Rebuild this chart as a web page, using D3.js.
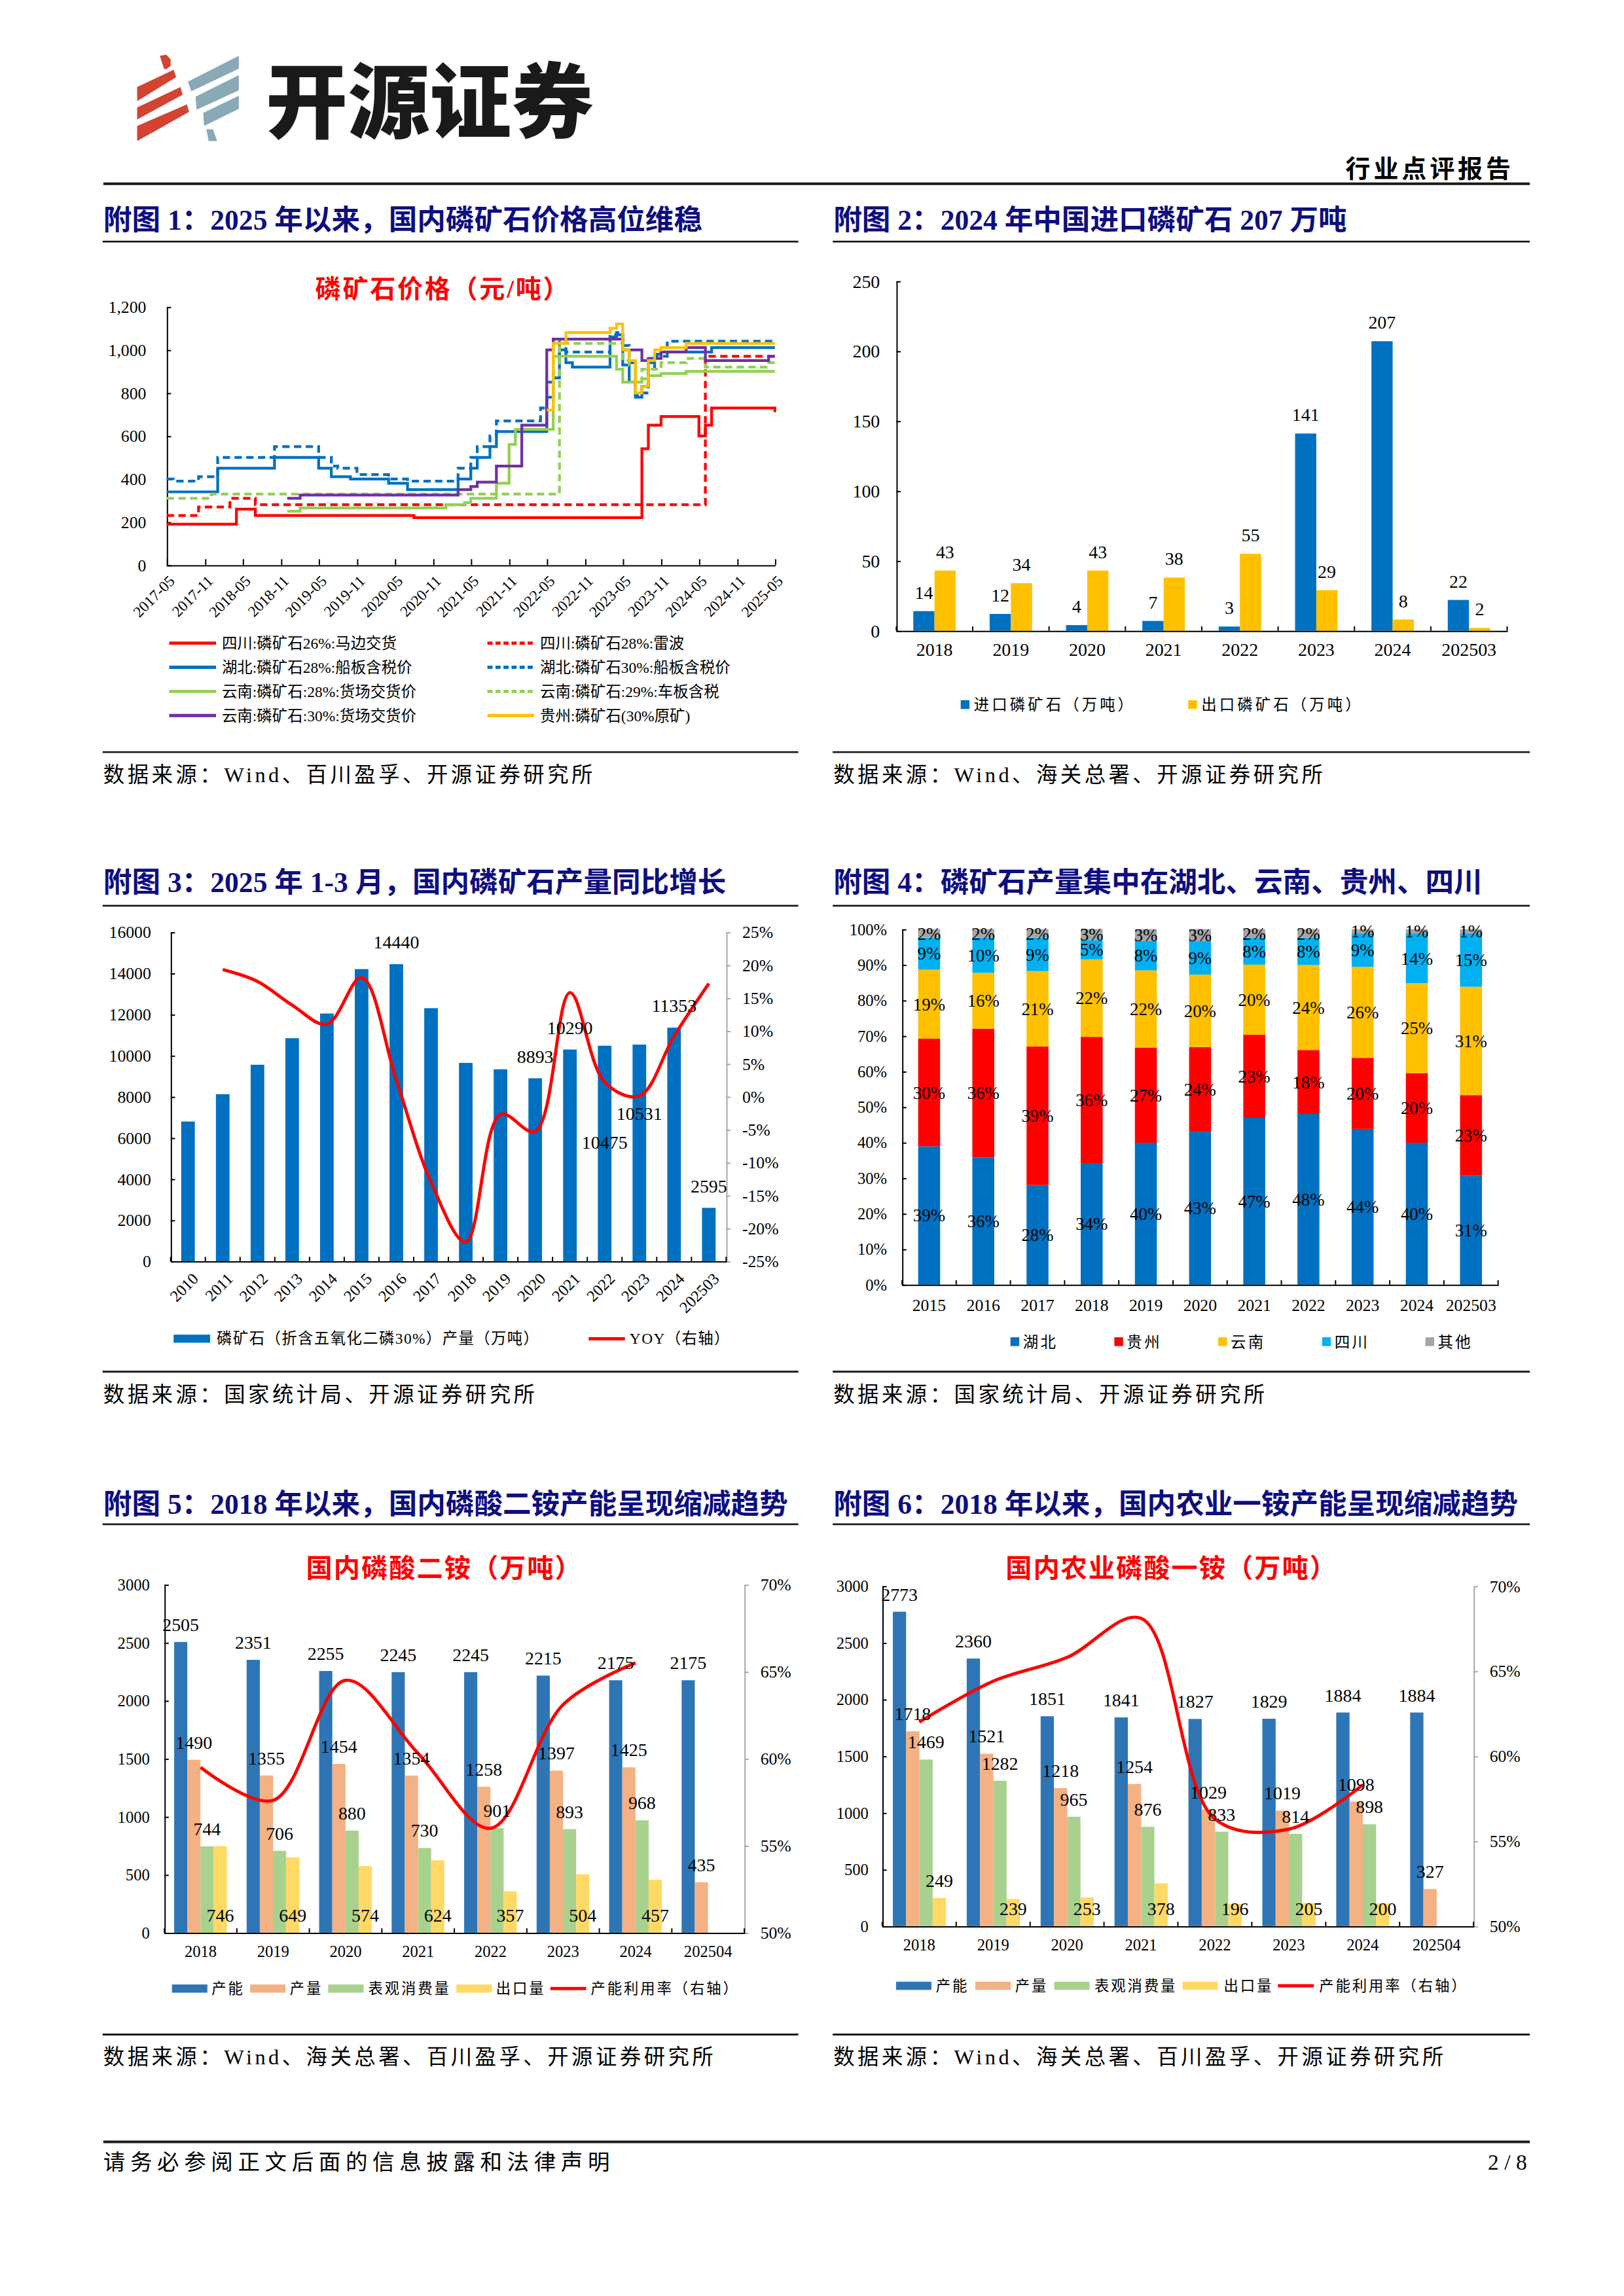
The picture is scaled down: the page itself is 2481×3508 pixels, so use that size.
<!DOCTYPE html>
<html>
<head>
<meta charset="utf-8">
<script src="https://cdnjs.cloudflare.com/ajax/libs/d3/7.8.5/d3.min.js"></script>
<style>
body { margin: 0; background: #fff; }
svg { display: block; }
</style>
</head>
<body>
<script>
// ---------- 附图1: 磷矿石价格（元/吨）  [month the price steps to, price] ----------
const priceNames = ['四川:磷矿石26%:马边交货', '四川:磷矿石28%:雷波',
  '湖北:磷矿石28%:船板含税价', '湖北:磷矿石30%:船板含税价',
  '云南:磷矿石:28%:货场交货价', '云南:磷矿石:29%:车板含税',
  '云南:磷矿石:30%:货场交货价', '贵州:磷矿石(30%原矿)'];
const scMabian26 = [['2017-05',190],['2018-04',260],['2018-07',230],['2020-08',220],['2023-08',540],['2023-09',650],['2023-11',690],['2024-05',600],['2024-06',650],['2024-07',730],['2025-05',710]];
const scLeibo28 = [['2017-05',230],['2017-10',270],['2018-03',310],['2018-07',280],['2024-06',970],['2025-05',970]];
const hbChuanban28 = [['2017-05',340],['2018-01',450],['2018-10',500],['2019-05',450],['2019-07',410],['2019-10',400],['2020-04',380],['2020-07',350],['2021-03',400],['2021-05',450],['2021-06',500],['2021-08',550],['2021-09',620],['2022-05',780],['2022-06',870],['2022-07',1000],['2022-08',940],['2022-09',920],['2023-03',1060],['2023-04',1070],['2023-05',930],['2023-06',850],['2023-07',780],['2023-08',830],['2023-09',940],['2023-10',980],['2023-11',990],['2024-07',1010],['2025-05',1010]];
const hbChuanban30 = [['2017-05',400],['2017-06',390],['2017-10',410],['2018-01',500],['2018-10',550],['2019-05',500],['2019-07',460],['2019-08',450],['2019-11',420],['2020-04',400],['2020-07',390],['2021-03',450],['2021-05',500],['2021-06',550],['2021-08',600],['2021-09',670],['2022-04',730],['2022-05',850],['2022-06',960],['2022-07',1050],['2022-08',990],['2023-03',1070],['2023-04',1080],['2023-05',1020],['2023-06',940],['2023-07',790],['2023-08',800],['2023-09',910],['2023-10',970],['2023-12',1040],['2025-05',1040]];
const ynHuochang28 = [['2018-12',250],['2019-02',265],['2021-01',280],['2021-04',290],['2021-05',310],['2021-09',380],['2021-11',560],['2021-12',630],['2022-06',970],['2023-04',910],['2023-05',850],['2023-08',865],['2023-09',880],['2023-11',890],['2024-03',900],['2025-05',900]];
const ynCheban29 = [['2017-05',310],['2017-12',330],['2022-07',1030],['2023-05',950],['2023-06',930],['2023-07',850],['2023-08',910],['2023-11',940],['2024-03',960],['2024-06',920],['2025-04',940],['2025-05',940]];
const ynHuochang30 = [['2018-12',310],['2019-02',325],['2021-03',350],['2021-05',365],['2021-06',385],['2021-09',460],['2022-01',650],['2022-05',1000],['2022-06',1050],['2023-05',1000],['2023-08',950],['2023-09',960],['2023-11',990],['2024-03',1010],['2024-06',950],['2025-04',970],['2025-05',970]];
const gzYuankuang30 = [['2022-05',720],['2022-06',1030],['2022-08',1080],['2023-03',1100],['2023-04',1120],['2023-05',1000],['2023-06',950],['2023-07',800],['2023-08',830],['2023-09',950],['2023-10',1000],['2023-11',1010],['2024-03',1030],['2025-05',1030]];

// ---------- 附图2: 进出口 (万吨) ----------
const tradeYears = ['2018','2019','2020','2021','2022','2023','2024','202503'];
const importOre = [14, 12, 4, 7, 3, 141, 207, 22];
const exportOre = [43, 34, 43, 38, 55, 29, 8, 2];

// ---------- 附图3: 产量 (万吨) + YOY ----------
const outYears = ['2010','2011','2012','2013','2014','2015','2016','2017','2018','2019','2020','2021','2022','2023','2024','202503'];
const outVals = [6790, 8120, 9550, 10840, 12040, 14200, 14440, 12300, 9640, 9330, 8893, 10290, 10475, 10531, 11353, 2595];
const outYoy = [null, 19.3, 17.5, 13.9, 11.0, 18.1, 2.5, -13.0, -22.1, -2.7, -5.3, 15.8, 2.2, 0.1, 9.2, 17.2];
const outLabelled = ['2016','2020','2021','2022','2023','2024','202503'];

// ---------- 附图4: 产量占比 (%) ----------
const shareYears = ['2015','2016','2017','2018','2019','2020','2021','2022','2023','2024','202503'];
const shareRegions = ['湖北','贵州','云南','四川','其他'];
const shareHubei = [38.9, 35.8, 28.0, 34.2, 39.9, 43.0, 46.9, 48.0, 43.8, 39.9, 30.6];
const shareGuizhou = [30.3, 36.2, 39.0, 35.5, 26.8, 23.8, 23.4, 18.0, 20.0, 19.6, 22.7];
const shareYunnan = [19.4, 15.7, 21.2, 21.8, 21.7, 20.4, 19.7, 23.9, 25.6, 25.3, 30.5];
const shareSichuan = [9.0, 9.9, 9.4, 5.4, 8.3, 9.4, 7.6, 7.7, 9.4, 14.0, 15.0];
const shareOther = [2.4, 2.4, 2.4, 3.1, 3.3, 3.4, 2.4, 2.4, 1.2, 1.2, 1.2];

// ---------- 附图5: 磷酸二铵 (万吨) ----------
const capYears = ['2018','2019','2020','2021','2022','2023','2024','202504'];
const dapCapacity = [2505, 2351, 2255, 2245, 2245, 2215, 2175, 2175];
const dapOutput = [1490, 1355, 1454, 1354, 1258, 1397, 1425, 435];
const dapConsumption = [744, 706, 880, 730, 901, 893, 968, null];
const dapExport = [746, 649, 574, 624, 357, 504, 457, null];
const dapUtil = [59.5, 57.6, 64.5, 60.3, 56.0, 63.1, 65.5, null];

// ---------- 附图6: 农业磷酸一铵 (万吨) ----------
const mapCapacity = [2773, 2360, 1851, 1841, 1827, 1829, 1884, 1884];
const mapOutput = [1718, 1521, 1218, 1254, 1029, 1019, 1098, 327];
const mapConsumption = [1469, 1282, 965, 876, 833, 814, 898, null];
const mapExport = [249, 239, 253, 378, 196, 205, 200, null];
const mapUtil = [62.0, 64.4, 65.8, 68.1, 56.3, 55.7, 58.3, null];

const capLegend = ['产能', '产量', '表观消费量', '出口量', '产能利用率（右轴）'];

// ================= drawing =================
const W = 1100, H = 3508 * 1100 / 2481;
const svg = d3.select('body').append('svg')
  .attr('width', 2481).attr('height', 3508)
  .attr('viewBox', `0 0 ${W} ${H}`);
// whole page content, slightly tightened to the reference margins
const page = svg.append('g').attr('transform', 'translate(70,124) scale(0.991) translate(-70,-124)');

const FONT = '"Liberation Serif", "Noto Sans CJK SC", serif';
const NAVY = '#0e0e80';
const int = d3.format('d');

function txt(g, x, y, s, size, opt = {}) {
  return g.append('text').attr('x', x).attr('y', y).text(s)
    .attr('font-family', opt.family || FONT).attr('font-size', size)
    .attr('fill', opt.fill || '#000')
    .attr('font-weight', opt.weight || 'normal')
    .attr('text-anchor', opt.anchor || 'start')
    .attr('letter-spacing', opt.ls || 0);
}
function hline(x1, x2, y, w) {
  page.append('line').attr('x1', x1).attr('x2', x2).attr('y1', y).attr('y2', y)
    .attr('stroke', '#1a1a1a').attr('stroke-width', w);
}
function axisStyle(g, size, stroke) {
  g.attr('font-family', FONT).attr('font-size', size);
  g.select('.domain').attr('stroke', stroke || '#000').attr('stroke-width', 0.9);
  g.selectAll('.tick line').attr('stroke', stroke || '#000').attr('stroke-width', 0.9);
  g.selectAll('.tick text').attr('fill', '#000');
}
// Excel style ticks between categories
function catTicks(g, x, y0, len) {
  const r0 = x.range()[0];
  g.append('g').selectAll('line').data(d3.range(x.domain().length + 1)).join('line')
    .attr('x1', i => r0 + i * x.step()).attr('x2', i => r0 + i * x.step())
    .attr('y1', y0).attr('y2', y0 - len).attr('stroke', '#000').attr('stroke-width', 0.9);
}
function frame(x0, x1, yTitle, yRule, title, ySrc, src) {
  txt(page, x0 + 0.5, yTitle, title, 19.5, {fill: NAVY, weight: 'bold'});
  hline(x0, x1, yRule, 1.3);
  hline(x0, x1, ySrc, 1.3);
  txt(page, x0 + 0.5, ySrc + 20.5, src, 14.5, {ls: 2});
}

// ---------- header ----------
const logo = page.append('g');
[[[93.1,58.4],[118.2,46.5],[119.7,51.7],[93.1,68]],
 [[93.1,72.4],[122.7,58.4],[124.2,63.6],[93.1,80.5]],
 [[93.1,85],[127.1,70.2],[128.6,75.4],[93.1,95.3]],
 [[108.6,37],[113,36.2],[116,39.5],[116,44],[113,46.2],[111.5,46]]]
  .forEach(p => logo.append('path').attr('d', d3.line()(p) + 'Z').attr('fill', '#d24332'));
[[[127.8,54.7],[162.6,37],[162.6,45.8],[130.1,61.3]],
 [[133,65],[162.6,50.2],[162.6,60.6],[133.7,73.9]],
 [[138.2,76.1],[162.6,64.3],[162.6,73.2],[138.9,85]],
 [[140.4,87.2],[144.9,87.2],[147.8,95.3],[142,95.3]]]
  .forEach(p => logo.append('path').attr('d', d3.line()(p) + 'Z').attr('fill', '#8aa9b6'));
txt(page, 181, 89, '开源证券', 56, {family: '"Noto Sans CJK SC"', weight: 900, fill: '#1a1a1a'});
txt(page, 919, 120, '行业点评报告', 17, {family: '"Noto Sans CJK SC"', weight: 700, ls: 2.2});
hline(70, 1045, 124.5, 1.8);

// ---------- frames ----------
const L0 = 69.5, L1 = 545, R0 = 568.5, R1 = 1045;
frame(L0, L1, 156, 164, '附图 1：2025 年以来，国内磷矿石价格高位维稳', 513, '数据来源：Wind、百川盈孚、开源证券研究所');
frame(R0, R1, 156, 164, '附图 2：2024 年中国进口磷矿石 207 万吨', 513, '数据来源：Wind、海关总署、开源证券研究所');
frame(L0, L1, 608.5, 618, '附图 3：2025 年 1-3 月，国内磷矿石产量同比增长', 936.5, '数据来源：国家统计局、开源证券研究所');
frame(R0, R1, 608.5, 618, '附图 4：磷矿石产量集中在湖北、云南、贵州、四川', 936.5, '数据来源：国家统计局、开源证券研究所');
frame(L0, L1, 1033.5, 1040.8, '附图 5：2018 年以来，国内磷酸二铵产能呈现缩减趋势', 1389.6, '数据来源：Wind、海关总署、百川盈孚、开源证券研究所');
frame(R0, R1, 1033.5, 1040.8, '附图 6：2018 年以来，国内农业一铵产能呈现缩减趋势', 1389.6, '数据来源：Wind、海关总署、百川盈孚、开源证券研究所');

// ---------- footer ----------
hline(70, 1045, 1463, 1.8);
txt(page, 70, 1482, '请务必参阅正文后面的信息披露和法律声明', 15, {ls: 3.4});
txt(page, 1043, 1482, '2 / 8', 15, {anchor: 'end'});

// ================= 附图1 =================
{
  const parseM = d3.timeParse('%Y-%m');
  const g = page.append('g');
  const x = d3.scaleTime().domain([parseM('2017-05'), parseM('2025-05')]).range([113.3, 529]);
  const y = d3.scaleLinear().domain([0, 1200]).range([385.1, 208.6]);
  txt(g, 302, 202.5, '磷矿石价格（元/吨）', 17.5, {fill: '#ff0000', weight: 'bold', anchor: 'middle', ls: 1.2});

  g.append('g').attr('transform', `translate(${x.range()[0]},0)`)
    .call(d3.axisLeft(y).tickValues(d3.range(0, 1201, 200)).tickFormat(d3.format(','))
      .tickSize(-3).tickPadding(14).tickSizeOuter(0))
    .call(a => axisStyle(a, 11.5));
  const halfYears = d3.range(0, 17).map(i => d3.timeMonth.offset(parseM('2017-05'), 6 * i));
  g.append('g').attr('transform', `translate(0,${y(0)})`)
    .call(d3.axisBottom(x).tickValues(halfYears).tickFormat(d3.timeFormat('%Y-%m'))
      .tickSize(-4).tickSizeOuter(0))
    .call(a => axisStyle(a, 10.5))
    .call(a => a.selectAll('.tick text').attr('y', 0).attr('dy', '0.35em')
      .attr('text-anchor', 'end').attr('transform', 'translate(3,9) rotate(-45)'));

  const series = [scMabian26, scLeibo28, hbChuanban28, hbChuanban30, ynHuochang28, ynCheban29, ynHuochang30, gzYuankuang30];
  const colors = ['#ff0000', '#ff0000', '#0070c0', '#0070c0', '#92d050', '#92d050', '#7030a0', '#ffc000'];
  const dashed = [false, true, false, true, false, true, false, false];
  const line = d3.line().x(d => x(parseM(d[0]))).y(d => y(d[1])).curve(d3.curveStepAfter);
  series.forEach((s, i) => {
    g.append('path').datum(s).attr('d', line).attr('fill', 'none')
      .attr('stroke', colors[i]).attr('stroke-width', 1.9)
      .attr('stroke-dasharray', dashed[i] ? '5,3' : null);
  });

  // legend, 2 columns x 4 rows
  const lg = g.append('g');
  priceNames.forEach((n, i) => {
    const lx = i % 2 === 0 ? 115 : 332.5;
    const ly = 438.5 + Math.floor(i / 2) * 16.5;
    lg.append('line').attr('x1', lx).attr('x2', lx + 32).attr('y1', ly).attr('y2', ly)
      .attr('stroke', colors[i]).attr('stroke-width', 2.2)
      .attr('stroke-dasharray', dashed[i] ? '3.5,2' : null);
    txt(lg, lx + 36, ly + 3.8, n, 10.5);
  });
}

// ================= 附图2 =================
{
  const g = page.append('g');
  const x = d3.scaleBand().domain(tradeYears).range([612, 1029.5]);
  const y = d3.scaleLinear().domain([0, 250]).range([430, 191]);
  const bw = 14.5;
  g.append('g').attr('transform', `translate(${x.range()[0]},0)`)
    .call(d3.axisLeft(y).tickValues(d3.range(0, 251, 50)).tickSize(-3).tickPadding(11.2).tickSizeOuter(0))
    .call(a => axisStyle(a, 12.5));
  const pairs = [[importOre, '#0070c0', -1], [exportOre, '#ffc000', 0]];
  pairs.forEach(([vals, col, k]) => {
    const data = tradeYears.map((c, i) => ({c, v: vals[i]}));
    g.selectAll(null).data(data).join('rect')
      .attr('x', d => x(d.c) + x.bandwidth() / 2 + k * bw).attr('width', bw)
      .attr('y', d => y(d.v)).attr('height', d => y(0) - y(d.v)).attr('fill', col);
    g.selectAll(null).data(data).join('text')
      .attr('x', d => x(d.c) + x.bandwidth() / 2 + k * bw + bw / 2)
      .attr('y', d => y(d.v) - 8.5).text(d => d.v)
      .attr('text-anchor', 'middle').attr('font-family', FONT).attr('font-size', 12.5);
  });
  g.append('g').attr('transform', `translate(0,${y(0)})`)
    .call(d3.axisBottom(x).tickSize(0).tickPadding(8.5).tickSizeOuter(0))
    .call(a => axisStyle(a, 12.5));
  catTicks(g, x, y(0), 3);

  const items = [['进口磷矿石（万吨）', '#0070c0', 656], ['出口磷矿石（万吨）', '#ffc000', 811.5]];
  items.forEach(([n, c, lx]) => {
    g.append('rect').attr('x', lx).attr('y', 477.5).attr('width', 6).attr('height', 6).attr('fill', c);
    txt(g, lx + 9, 484.5, n, 10.5, {ls: 1.8});
  });
}

// ================= 附图3 =================
{
  const g = page.append('g');
  const x = d3.scaleBand().domain(outYears).range([116, 495.7]);
  const yl = d3.scaleLinear().domain([0, 16000]).range([861, 636]);
  const yr = d3.scaleLinear().domain([-25, 25]).range([861, 636]);
  const bw = 9.3;
  g.append('g').attr('transform', `translate(${x.range()[0]},0)`)
    .call(d3.axisLeft(yl).tickValues(d3.range(0, 16001, 2000)).tickFormat(int)
      .tickSize(-3).tickPadding(13.4).tickSizeOuter(0))
    .call(a => axisStyle(a, 11.5));
  g.append('g').attr('transform', `translate(${x.range()[1]},0)`)
    .call(d3.axisRight(yr).tickValues(d3.range(-25, 26, 5)).tickFormat(d => d + '%')
      .tickSize(3).tickPadding(8).tickSizeOuter(0))
    .call(a => axisStyle(a, 11.5, '#a6a6a6'));

  const data = outYears.map((c, i) => ({c, v: outVals[i], r: outYoy[i]}));
  g.selectAll(null).data(data).join('rect')
    .attr('x', d => x(d.c) + (x.bandwidth() - bw) / 2).attr('width', bw)
    .attr('y', d => yl(d.v)).attr('height', d => yl(0) - yl(d.v)).attr('fill', '#0070c0');

  g.append('g').attr('transform', `translate(0,${yl(0)})`)
    .call(d3.axisBottom(x).tickSize(0).tickSizeOuter(0))
    .call(a => axisStyle(a, 11))
    .call(a => a.selectAll('.tick text').attr('y', 0).attr('dy', '0.35em')
      .attr('text-anchor', 'end').attr('transform', 'translate(5,10) rotate(-45)'));
  catTicks(g, x, yl(0), 3);

  const line = d3.line().defined(d => d.r != null)
    .x(d => x(d.c) + x.bandwidth() / 2).y(d => yr(d.r)).curve(d3.curveCatmullRom.alpha(0.5));
  g.append('path').datum(data).attr('d', line).attr('fill', 'none')
    .attr('stroke', '#ff0000').attr('stroke-width', 2.2);

  // some labels were moved into the bars to keep clear of the line
  const shift = {'2022': 66, '2023': 47};
  g.selectAll(null).data(data.filter(d => outLabelled.includes(d.c))).join('text')
    .attr('x', d => x(d.c) + x.bandwidth() / 2)
    .attr('y', d => yl(d.v) + (shift[d.c] || -15) + 4.4).text(d => d.v)
    .attr('text-anchor', 'middle').attr('font-family', FONT).attr('font-size', 12.5);

  g.append('rect').attr('x', 118).attr('y', 911.2).attr('width', 25).attr('height', 5.5).attr('fill', '#0070c0');
  txt(g, 147.5, 917.6, '磷矿石（折含五氧化二磷30%）产量（万吨）', 10.5, {ls: 0.6});
  g.append('line').attr('x1', 401.7).attr('x2', 426.5).attr('y1', 914).attr('y2', 914)
    .attr('stroke', '#ff0000').attr('stroke-width', 2.2);
  txt(g, 429.7, 917.6, 'YOY（右轴）', 10.5, {ls: 0.6});
}

// ================= 附图4 =================
{
  const g = page.append('g');
  const x = d3.scaleBand().domain(shareYears).range([615.9, 1023.3]);
  const y = d3.scaleLinear().domain([0, 100]).range([877, 634]);
  const bw = 15;
  const cols = ['#0070c0', '#ff0000', '#ffc000', '#00b0f0', '#a5a5a5'];
  const table = shareYears.map((c, i) => ({c, '湖北': shareHubei[i], '贵州': shareGuizhou[i],
    '云南': shareYunnan[i], '四川': shareSichuan[i], '其他': shareOther[i]}));
  const stack = d3.stack().keys(shareRegions)(table);

  g.append('g').attr('transform', `translate(${x.range()[0]},0)`)
    .call(d3.axisLeft(y).tickValues(d3.range(0, 101, 10)).tickFormat(d => d + '%')
      .tickSize(-3).tickPadding(10.3).tickSizeOuter(0))
    .call(a => axisStyle(a, 11));

  stack.forEach((layer, k) => {
    g.selectAll(null).data(layer).join('rect')
      .attr('x', d => x(d.data.c) + (x.bandwidth() - bw) / 2).attr('width', bw)
      .attr('y', d => y(d[1])).attr('height', d => y(d[0]) - y(d[1])).attr('fill', cols[k]);
  });
  stack.forEach(layer => {
    g.selectAll(null).data(layer).join('text')
      .attr('x', d => x(d.data.c) + x.bandwidth() / 2)
      .attr('y', d => y((d[0] + d[1]) / 2) + 4.2)
      .text(d => Math.round(d[1] - d[0]) + '%')
      .attr('text-anchor', 'middle').attr('font-family', FONT).attr('font-size', 12);
  });

  g.append('g').attr('transform', `translate(0,${y(0)})`)
    .call(d3.axisBottom(x).tickSize(0).tickPadding(9.9).tickSizeOuter(0))
    .call(a => axisStyle(a, 11.5));
  catTicks(g, x, y(0), 3);

  const lx = [690, 761, 832, 903, 973.6];
  shareRegions.forEach((n, k) => {
    g.append('rect').attr('x', lx[k]).attr('y', 913).attr('width', 6).attr('height', 6).attr('fill', cols[k]);
    txt(g, lx[k] + 8.5, 920, n, 10.5, {ls: 1.5});
  });
}

// ================= 附图5 / 附图6 =================
function capChart(p) {
  const g = page.append('g');
  const x = d3.scaleBand().domain(capYears).range(p.xr);
  const yl = d3.scaleLinear().domain([0, 3000]).range(p.yr);
  const yr = d3.scaleLinear().domain([50, 70]).range(p.yr);
  const keys = ['cap', 'out', 'con', 'exp'];
  const sub = d3.scaleBand().domain(keys).range([p.inset, p.inset + 4 * p.bw]);
  const cols = ['#2e75b6', '#f4b183', '#a9d18e', '#ffd966'];
  const vals = [p.cap, p.out, p.con, p.exp];

  txt(g, p.titleX, 1077, p.title, 18, {fill: '#ff0000', weight: 'bold', anchor: 'middle', ls: 0.9});

  g.append('g').attr('transform', `translate(${p.xr[0]},0)`)
    .call(d3.axisLeft(yl).tickValues(d3.range(0, 3001, 500)).tickFormat(int)
      .tickSize(-3).tickPadding(p.padL).tickSizeOuter(0))
    .call(a => axisStyle(a, 11));
  g.append('g').attr('transform', `translate(${p.xr[1]},0)`)
    .call(d3.axisRight(yr).tickValues(d3.range(50, 71, 5)).tickFormat(d => d + '%')
      .tickSize(3).tickPadding(8).tickSizeOuter(0))
    .call(a => axisStyle(a, 11.5, '#a6a6a6'));

  const data = keys.map((k, j) => capYears.map((c, i) => ({k, c, v: vals[j][i]})).filter(d => d.v != null));
  data.forEach((ser, j) => {
    g.selectAll(null).data(ser).join('rect')
      .attr('x', d => x(d.c) + sub(d.k)).attr('width', sub.bandwidth())
      .attr('y', d => yl(d.v)).attr('height', d => yl(0) - yl(d.v)).attr('fill', cols[j]);
  });

  g.append('g').attr('transform', `translate(0,${yl(0)})`)
    .call(d3.axisBottom(x).tickSize(0).tickPadding(9).tickSizeOuter(0))
    .call(a => axisStyle(a, 11));
  catTicks(g, x, yl(0), 3);

  const line = d3.line().defined(d => d.r != null)
    .x(d => x(d.c) + x.bandwidth() / 2).y(d => yr(d.r)).curve(d3.curveCatmullRom.alpha(0.5));
  g.append('path').datum(capYears.map((c, i) => ({c, r: p.util[i]})))
    .attr('d', line).attr('fill', 'none').attr('stroke', '#ff0000').attr('stroke-width', 2.2);

  // value labels: export labels sit at the foot of the bar
  data.forEach(ser => {
    g.selectAll(null).data(ser).join('text')
      .attr('x', d => x(d.c) + sub(d.k) + sub.bandwidth() / 2)
      .attr('y', d => (d.k === 'exp' && !(p.expAbove || []).includes(d.c) ? yl(0) - 12 : yl(d.v) - 12) + 4.4)
      .text(d => d.v)
      .attr('text-anchor', 'middle').attr('font-family', FONT).attr('font-size', 12.5);
  });

  const ly = p.legendY;
  p.legendX.forEach((lx, k) => {
    if (k < 4) {
      g.append('rect').attr('x', lx).attr('y', ly - 2.8).attr('width', 24.2).attr('height', 5.6).attr('fill', cols[k]);
    } else {
      g.append('line').attr('x1', lx).attr('x2', lx + 24.5).attr('y1', ly).attr('y2', ly)
        .attr('stroke', '#ff0000').attr('stroke-width', 2.2);
    }
    txt(g, p.legendTextX[k], ly + 3.6, capLegend[k], 10, {ls: 1.3});
  });
}

capChart({
  xr: [111.7, 508.1], yr: [1320, 1082], inset: 6.7, bw: 9, padL: 10,
  cap: dapCapacity, out: dapOutput, con: dapConsumption, exp: dapExport, util: dapUtil,
  title: '国内磷酸二铵（万吨）', titleX: 303,
  legendY: 1358.2, legendX: [116.9, 170.3, 223.7, 311.3, 375.5], legendTextX: [144, 197.4, 251, 338.4, 403.2]
});
capChart({
  xr: [602.4, 1006.5], yr: [1315.5, 1083], inset: 7.2, bw: 9.08, padL: 9.4,
  cap: mapCapacity, out: mapOutput, con: mapConsumption, exp: mapExport, util: mapUtil,
  title: '国内农业磷酸一铵（万吨）', titleX: 800, expAbove: ['2018'],
  legendY: 1356.3, legendX: [611.8, 666, 719.9, 807.6, 872.8], legendTextX: [639, 693.2, 747.4, 835.8, 901]
});
</script>
</body>
</html>
